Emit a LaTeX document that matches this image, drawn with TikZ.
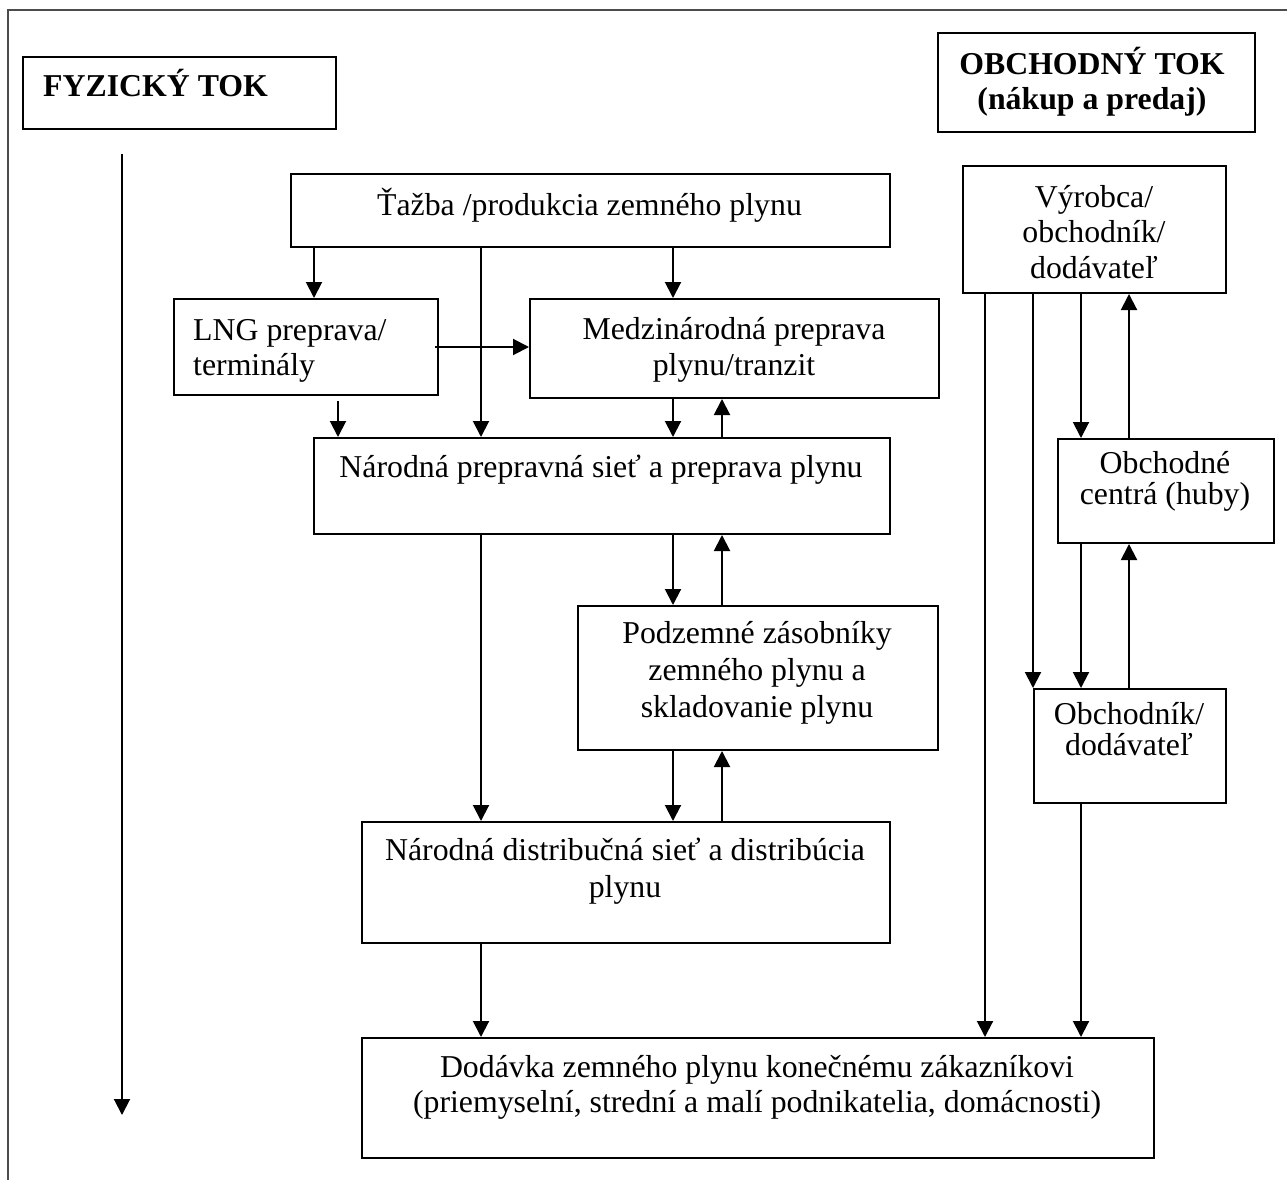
\documentclass[tikz,border=0pt]{standalone}
\usepackage{fontspec}
\setmainfont{Liberation Serif}
\usetikzlibrary{arrows.meta}
\newcommand\mlc[2]{\fontsize{31.8}{#1}\selectfont\begin{tabular}[t]{@{}c@{}}#2\end{tabular}}
\newcommand\mll[2]{\fontsize{31.8}{#1}\selectfont\begin{tabular}[t]{@{}l@{}}#2\end{tabular}}
\tikzset{
  box/.style={draw, line width=2pt, inner sep=0pt, anchor=north west},
  txt/.style={inner sep=0pt, font=\fontsize{31.8}{36}\selectfont},
  arr/.style={line width=2pt, -{Triangle[length=16pt,width=16pt]}},
  frame/.style={line width=1.2pt, draw=black!70}
}
\begin{document}
\begin{tikzpicture}[x=1pt,y=-1pt]
\useasboundingbox (0,0) rectangle (1287,1180);
\fill[white] (0,0) rectangle (1287,1180);
% outer frame
\coordinate (fA) at (8,1180);
\coordinate (fB) at (8,10);
\coordinate (fC) at (1287,10);
\draw[frame] (fA) -- (fB) -- (fC);

% column coordinates
\coordinate (x314) at (314,0);
\coordinate (x338) at (338,0);
\coordinate (x481) at (481,0);
\coordinate (x673) at (673,0);
\coordinate (x722) at (722,0);
\coordinate (x985) at (985,0);
\coordinate (x1033) at (1033,0);
\coordinate (x1081) at (1081,0);
\coordinate (x1129) at (1129,0);
\coordinate (y347) at (0,347);

% headings
\node[box, minimum width=313pt, minimum height=72pt] (fyz) at (22,56) {};
\node[txt, anchor=base west, font=\fontsize{31.8}{36}\selectfont\bfseries] (fyzT) at (43,97) {FYZICKÝ TOK};
\node[box, minimum width=317pt, minimum height=99pt] (obch) at (937,32) {};
\node[txt, anchor=base] (obchT) at (1092,75) {\mlc{35}{\bfseries OBCHODNÝ TOK\\\bfseries (nákup a predaj)}};

% physical flow boxes
\node[box, minimum width=599pt, minimum height=73pt] (tazba) at (290,173) {};
\node[txt, anchor=base] (tazbaT) at (589.5,215) {Ťažba /produkcia zemného plynu};

\node[box, minimum width=264pt, minimum height=96pt] (lng) at (173,298) {};
\node[txt, anchor=base west] (lngT) at (193,340) {\mll{35}{LNG preprava/\\terminály}};

\node[box, minimum width=409pt, minimum height=99pt] (medz) at (529,298) {};
\node[txt, anchor=base] (medzT) at (734,339) {\mlc{36}{Medzinárodná preprava\\plynu/tranzit}};

\node[box, minimum width=576pt, minimum height=96pt] (narodna) at (313,437) {};
\node[txt, anchor=base] (narodnaT) at (601,477) {Národná prepravná sieť a preprava plynu};

\node[box, minimum width=360pt, minimum height=144pt] (podz) at (577,605) {};
\node[txt, anchor=base] (podzT) at (757,643) {\mlc{37}{Podzemné zásobníky\\zemného plynu a\\skladovanie plynu}};

\node[box, minimum width=528pt, minimum height=121pt] (dist) at (361,821) {};
\node[txt, anchor=base] (distT) at (625,860) {\mlc{37}{Národná distribučná sieť a distribúcia\\plynu}};

\node[box, minimum width=792pt, minimum height=120pt] (dod) at (361,1037) {};
\node[txt, anchor=base] (dodT) at (757,1077) {\mlc{35}{Dodávka zemného plynu konečnému zákazníkovi\\(priemyselní, strední a malí podnikatelia, domácnosti)}};

% trade flow boxes
\node[box, minimum width=263pt, minimum height=127pt] (vyr) at (962,165) {};
\node[txt, anchor=base] (vyrT) at (1094,207) {\mlc{35.5}{Výrobca/\\obchodník/\\dodávateľ}};

\node[box, minimum width=216pt, minimum height=104pt] (centra) at (1057,438) {};
\node[txt, anchor=base] (centraT) at (1165,473) {\mlc{31.5}{Obchodné\\centrá (huby)}};

\node[box, minimum width=192pt, minimum height=114pt] (obchodnik) at (1033,688) {};
\node[txt, anchor=base] (obchodnikT) at (1129,724) {\mlc{31.5}{Obchodník/\\dodávateľ}};

% physical flow arrow
\coordinate (physTop) at (122,154);
\coordinate (physEnd) at (122,1115);
\draw[arr] (physTop) -- (physEnd);

% connectors, physical
\draw[arr] (tazba.south -| x314) -- (lng.north -| x314);
\draw[arr] (tazba.south -| x481) -- (narodna.north -| x481);
\draw[arr] (tazba.south -| x673) -- (medz.north -| x673);
\draw[arr] ([xshift=-4pt]lng.east |- y347) -- (medz.west |- y347);
\draw[arr] ([yshift=-5pt]lng.south -| x338) -- (narodna.north -| x338);
\draw[arr] (medz.south -| x673) -- (narodna.north -| x673);
\draw[arr] (narodna.north -| x722) -- (medz.south -| x722);
\draw[arr] (narodna.south -| x673) -- (podz.north -| x673);
\draw[arr] (podz.north -| x722) -- (narodna.south -| x722);
\draw[arr] (narodna.south -| x481) -- (dist.north -| x481);
\draw[arr] (podz.south -| x673) -- (dist.north -| x673);
\draw[arr] (dist.north -| x722) -- (podz.south -| x722);
\draw[arr] (dist.south -| x481) -- (dod.north -| x481);

% connectors, trade
\draw[arr] (vyr.south -| x985) -- (dod.north -| x985);
\draw[arr] (vyr.south -| x1033) -- (obchodnik.north -| x1033);
\draw[arr] (vyr.south -| x1081) -- (centra.north -| x1081);
\draw[arr] (centra.north -| x1129) -- (vyr.south -| x1129);
\draw[arr] (centra.south -| x1081) -- (obchodnik.north -| x1081);
\draw[arr] (obchodnik.north -| x1129) -- (centra.south -| x1129);
\draw[arr] (obchodnik.south -| x1081) -- (dod.north -| x1081);
\end{tikzpicture}
\end{document}
